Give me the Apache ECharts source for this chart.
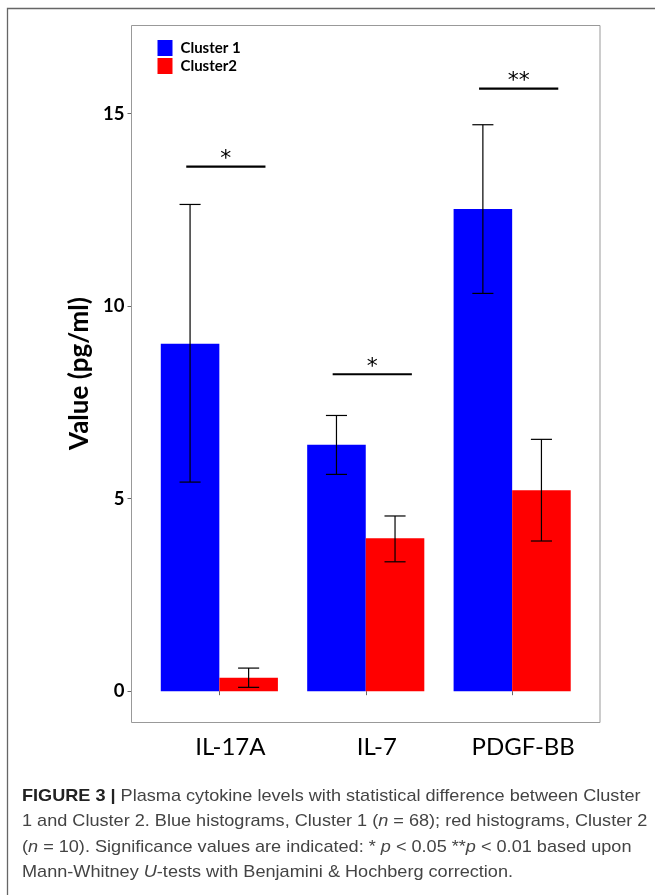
<!DOCTYPE html>
<html>
<head>
<meta charset="utf-8">
<script src="https://cdn.jsdelivr.net/npm/echarts@6/dist/echarts.min.js"></script>
<style>
html,body{margin:0;padding:0;background:#fff;}
#chart{width:655px;height:895px;}
</style>
</head>
<body>
<div id="chart"></div>
<script>
// ---- data ----
const categories = ['IL-17A', 'IL-7', 'PDGF-BB'];
const seriesNames = ['Cluster 1', 'Cluster2'];
const cluster1 = [9.02, 6.40, 12.52];
const cluster2 = [0.35, 3.97, 5.22];
const cluster1Low = [5.43, 5.63, 10.33];
const cluster1High = [12.64, 7.16, 14.71];
const cluster2Low = [0.10, 3.36, 3.90];
const cluster2High = [0.60, 4.55, 6.54];
const sigLevel = [13.62, 8.23, 15.65];
const sigLabel = ['*', '*', '**'];
const yMin = -0.8, yMax = 17.3;

// ---- layout ----
const PANEL = {left: 131.5, top: 25, right: 600, bottom: 722};
const band = (PANEL.right - PANEL.left) / 3.2;   // ggplot discrete expansion 0.6
const gridLeft = PANEL.left + 0.1 * band;
const gridRight = PANEL.right - 0.1 * band;
const barW = 0.4 * band;

const chart = echarts.init(document.getElementById('chart'), null, {renderer: 'canvas'});

function errorBar(side) {
  return function (params, api) {
    const i = api.value(0);
    const lo = api.coord([i, api.value(1)]);
    const hi = api.coord([i, api.value(2)]);
    const bw = api.size([1, 0])[0];
    const x = lo[0] + side * bw * 0.2;
    const cap = bw * 0.072;
    const st = {stroke: '#000', lineWidth: 1.2};
    return {
      type: 'group',
      children: [
        {type: 'line', shape: {x1: x, y1: lo[1], x2: x, y2: hi[1]}, style: st},
        {type: 'line', shape: {x1: x - cap, y1: lo[1], x2: x + cap, y2: lo[1]}, style: st},
        {type: 'line', shape: {x1: x - cap, y1: hi[1], x2: x + cap, y2: hi[1]}, style: st}
      ]
    };
  };
}

const caption =
  '{b|FIGURE 3 |} Plasma cytokine levels with statistical difference between Cluster\n' +
  '1 and Cluster 2. Blue histograms, Cluster 1 ({i|n} = 68); red histograms, Cluster 2\n' +
  '({i|n} = 10). Significance values are indicated: * {i|p} < 0.05 **{i|p} < 0.01 based upon\n' +
  'Mann-Whitney {i|U}-tests with Benjamini & Hochberg correction.';

const option = {
  animation: false,
  backgroundColor: '#fff',
  textStyle: {fontFamily: 'Lato'},
  legend: {
    data: seriesNames,
    orient: 'vertical',
    left: 152.5,
    top: 35,
    itemWidth: 15,
    itemHeight: 16,
    itemGap: 2,
    icon: 'rect',
    textStyle: {fontFamily: 'Lato', fontWeight: 'bold', fontSize: 15, color: '#000', padding: [0, 0, 0, 3]}
  },
  grid: {
    left: gridLeft,
    right: 655 - gridRight,
    top: PANEL.top,
    bottom: 895 - PANEL.bottom,
    containLabel: false
  },
  xAxis: {
    type: 'category',
    data: categories,
    axisLine: {show: false},
    axisTick: {show: true, alignWithLabel: true, length: 4, lineStyle: {color: '#666'}},
    axisLabel: {interval: 0, hideOverlap: false, fontFamily: 'Lato', fontSize: 24, color: '#000', margin: 13, padding: [0, 0, 0, 22]},
    splitLine: {show: false}
  },
  yAxis: {
    type: 'value',
    min: yMin,
    max: yMax,
    splitNumber: 4,
    minInterval: 5,
    maxInterval: 5,
    offset: gridLeft - PANEL.left,
    name: 'Value (pg/ml)',
    nameLocation: 'middle',
    nameGap: 28,
    nameTextStyle: {fontFamily: 'Lato', fontWeight: 'bold', fontSize: 26, color: '#000'},
    axisLine: {show: false},
    axisTick: {show: true, length: 4, lineStyle: {color: '#666'}},
    axisLabel: {fontFamily: 'Lato', fontWeight: 'bold', fontSize: 18.5, color: '#000', margin: 7, showMinLabel: false, showMaxLabel: false},
    splitLine: {show: false}
  },
  series: [
    {
      name: seriesNames[0], type: 'bar', data: cluster1, barWidth: barW, barGap: '0%',
      itemStyle: {color: '#0000ff'}
    },
    {
      name: seriesNames[1], type: 'bar', data: cluster2, barWidth: barW, barGap: '0%',
      itemStyle: {color: '#ff0000'}
    },
    {
      type: 'custom', z: 5,
      data: categories.map((c, i) => [i, cluster1Low[i], cluster1High[i]]),
      renderItem: errorBar(-1)
    },
    {
      type: 'custom', z: 5,
      data: categories.map((c, i) => [i, cluster2Low[i], cluster2High[i]]),
      renderItem: errorBar(1)
    },
    {
      type: 'custom', z: 5,
      data: categories.map((c, i) => [i, sigLevel[i]]),
      renderItem: function (params, api) {
        const i = api.value(0);
        const p = api.coord([i, api.value(1)]);
        const bw = api.size([1, 0])[0];
        const x1 = p[0] - 0.226 * bw, x2 = p[0] + 0.315 * bw;
        return {
          type: 'group',
          children: [
            {type: 'line', shape: {x1: x1, y1: p[1], x2: x2, y2: p[1]}, style: {stroke: '#000', lineWidth: 2.2}},
            {type: 'text', style: {
              text: sigLabel[params.dataIndex], x: (x1 + x2) / 2, y: p[1] + 4,
              align: 'center', verticalAlign: 'bottom',
              font: '22px "DejaVu Sans"', fill: '#000'
            }}
          ]
        };
      }
    }
  ],
  graphic: [
    {type: 'rect', silent: true, z: 0,
     shape: {x: 7.5, y: 8.5, width: 700, height: 1000},
     style: {fill: 'none', stroke: '#666', lineWidth: 1.3}},
    {type: 'rect', silent: true, z: 1,
     shape: {x: PANEL.left, y: PANEL.top + 0.5, width: PANEL.right - PANEL.left, height: PANEL.bottom - PANEL.top},
     style: {fill: 'none', stroke: '#999', lineWidth: 1}},
    {type: 'text', silent: true, z: 10,
     x: 22, y: 783.5, scaleX: 1.065,
     style: {
       text: caption,
       font: '17px "Liberation Sans"',
       fill: '#444',
       lineHeight: 25.5,
       rich: {
         b: {fontWeight: 'bold', fontFamily: 'Liberation Sans', fontSize: 17, fill: '#222', lineHeight: 25.5},
         i: {fontStyle: 'italic', fontFamily: 'Liberation Sans', fontSize: 17, fill: '#444', lineHeight: 25.5}
       }
     }}
  ]
};
chart.setOption(option);
</script>
</body>
</html>
